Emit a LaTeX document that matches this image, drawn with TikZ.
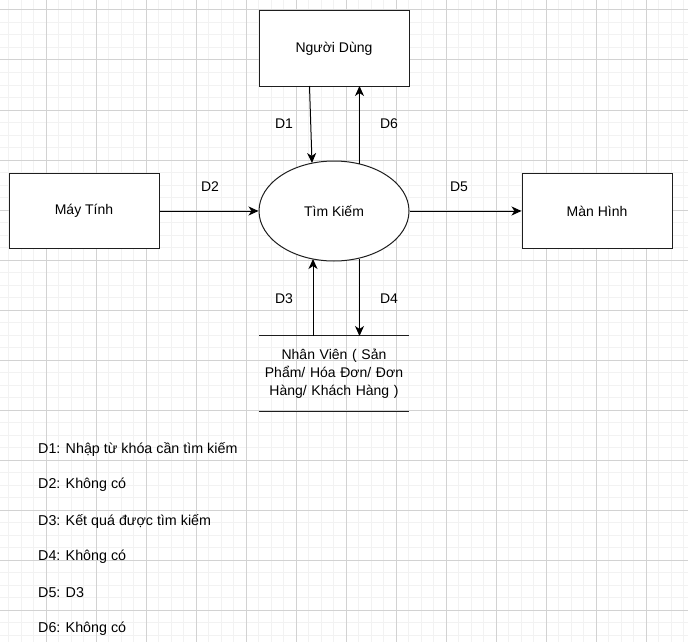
\documentclass[tikz,border=0pt]{standalone}
\usepackage{fontspec}
\setmainfont{Liberation Sans}
\usetikzlibrary{shapes.geometric,arrows.meta}
\begin{document}
\begin{tikzpicture}[x=1pt,y=-1pt,
  font=\fontsize{14pt}{18pt}\selectfont,
  minorgrid/.style={draw={rgb,255:red,242;green,242;blue,242},line width=1pt},
  majorgrid/.style={draw={rgb,255:red,210;green,210;blue,210},line width=1pt},
  entity/.style={draw={rgb,255:red,30;green,30;blue,30},fill=white,line width=1pt,minimum width=150pt,minimum height=75pt,inner sep=0pt},
  proc/.style={draw={rgb,255:red,30;green,30;blue,30},fill=white,line width=1pt,ellipse,minimum width=150pt,minimum height=100pt,inner sep=0pt},
  storebox/.style={minimum width=150pt,minimum height=75pt,inner sep=0pt,align=center,text width=140pt},
  flow/.style={line width=1pt,-{Stealth[length=10pt,width=9pt,inset=3pt]}},
  lbl/.style={inner sep=0pt},
  legend/.style={anchor=west,inner sep=0pt,font=\fontsize{14.3pt}{18pt}\selectfont}
]
\useasboundingbox (0,0) rectangle (688,642);
\fill[white] (0,0) rectangle (688,642);
\foreach \x in {-4,8.5,...,690} \draw[minorgrid] (\x,0) -- (\x,642);
\foreach \y in {-2.5,10,...,645} \draw[minorgrid] (0,\y) -- (688,\y);
\foreach \x in {46,96,...,690} \draw[majorgrid] (\x,0) -- (\x,642);
\foreach \y in {10,60,...,645} \draw[majorgrid] (0,\y) -- (688,\y);

\node[entity] (nd) at (334,48.5) {Người Dùng};
\node[entity] (mt) at (84,211) {Máy Tính};
\node[entity] (mh) at (597,211) {Màn Hình};
\node[proc] (tk) at (334,211) {Tìm Kiếm};
\node[storebox] (st) at (334,373.5) {Nhân Viên ( Sản\\Phẩm/ Hóa Đơn/ Đơn\\Hàng/ Khách Hàng )};
\draw[line width=1pt,draw={rgb,255:red,30;green,30;blue,30}] (st.north west) -- (st.north east);
\draw[line width=1pt,draw={rgb,255:red,30;green,30;blue,30}] (st.south west) -- (st.south east);

\coordinate (d1s) at (309.5,86);
\coordinate (d1e) at (312,163);
\coordinate (d6s) at (359.5,163.5);
\coordinate (d6e) at (359.5,86);
\coordinate (d3s) at (313,336);
\coordinate (d3e) at (313,259);
\coordinate (d4s) at (359.5,258.5);
\coordinate (d4e) at (359.5,336);

\draw[flow] (d1s) -- (d1e);
\draw[flow] (d6s) -- (d6e);
\draw[flow] (mt.east) -- (tk.west);
\draw[flow] (tk.east) -- (mh.west);
\draw[flow] (d3s) -- (d3e);
\draw[flow] (d4s) -- (d4e);

\node[lbl] (l1) at (284,124) {D1};
\node[lbl] (l6) at (389,124) {D6};
\node[lbl] (l2) at (210,187) {D2};
\node[lbl] (l5) at (459,187) {D5};
\node[lbl] (l3) at (284,299) {D3};
\node[lbl] (l4) at (389,299) {D4};

\node[legend] (g1) at (38,449) {D1: Nhập từ khóa cần tìm kiếm};
\node[legend] (g2) at (38,485) {D2: Không có};
\node[legend] (g3) at (38,521) {D3: Kết quá được tìm kiếm};
\node[legend] (g4) at (38,557) {D4: Không có};
\node[legend] (g5) at (38,593) {D5: D3};
\node[legend] (g6) at (38,629) {D6: Không có};
\end{tikzpicture}
\end{document}
